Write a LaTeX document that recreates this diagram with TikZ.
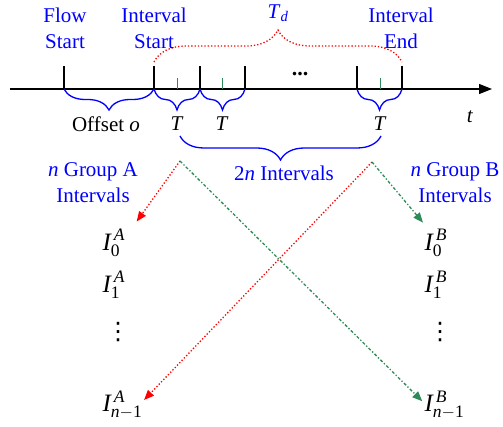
\documentclass[tikz,border=0pt]{standalone}
\usepackage{amsmath}
\usepackage{fontspec}
\setmainfont{Liberation Serif}
\newfontfamily\dotsfont{DejaVu Sans}
\usetikzlibrary{arrows.meta,positioning,decorations.pathreplacing}
\definecolor{grpgreen}{RGB}{46,139,87}
\begin{document}
\begin{tikzpicture}[x=1pt,y=-1pt,font=\fontsize{21}{26}\selectfont,line width=1.3pt,
  lbl/.style={text=blue,align=center,inner sep=0pt},
  plain/.style={inner sep=0pt},
  ivl/.style={inner sep=1pt,anchor=west,font=\fontsize{25}{30}\selectfont},
  vdot/.style={inner sep=0pt,font=\dotsfont\fontsize{24}{28}\selectfont},
  gtick/.style={grpgreen,line width=1pt},
  bluebrace/.style={blue,decorate,decoration={brace,mirror,amplitude=#1}},
  redflow/.style={red,dotted,line width=1.3pt,-{Triangle[length=10pt,width=8pt]}},
  greenflow/.style={grpgreen,dash dot,line width=1.3pt,-{Triangle[length=10pt,width=8pt]}}]
\useasboundingbox (0,0) rectangle (503,427);
\coordinate (axL) at (10,89);
\coordinate (axR) at (492,89);
\draw[-{Triangle[length=13pt,width=10pt]}] (axL) -- (axR);
\foreach \x/\n in {64/f,154/s,200/a,245/b,357/c,402/e}{
  \coordinate (top\n) at (\x,66);
  \coordinate (bot\n) at (\x,89);
  \draw (top\n) -- (bot\n);
}
\foreach \x in {177,222,380}
  \draw[gtick] (\x,78) -- (\x,89);
\node[plain,font=\bfseries\fontsize{22}{26}\selectfont] (dots) at (300,74) {...};
\draw[bluebrace=21pt] (botf) -- (bots);
\draw[bluebrace=21pt] (bots) -- (bota);
\draw[bluebrace=21pt] (bota) -- (botb);
\draw[bluebrace=21pt] (botc) -- (bote);
\coordinate (twoL) at (180,136);
\coordinate (twoR) at (381,136);
\draw[bluebrace=24pt] (twoL) -- (twoR);
\coordinate (tdL) at (154,62);
\coordinate (tdR) at (402,62);
\draw[red,dotted,decorate,decoration={brace,amplitude=32pt}] (tdL) -- (tdR);
\node[lbl] (flow) at (65,28) {Flow\\Start};
\node[lbl] (istart) at (154,28) {Interval\\Start};
\node[lbl] (iend) at (401,28) {Interval\\End};
\node[lbl] (td) at (278,13) {\textit{T}$_{\textit{d}}$};
\node[plain] (offset) at (106,124) {Offset \textit{o}};
\node[plain] (t1) at (177,124) {\textit{T}};
\node[plain] (t2) at (222,124) {\textit{T}};
\node[plain] (t3) at (380,124) {\textit{T}};
\node[plain] (tax) at (470,117) {\textit{t}};
\node[lbl] (grpA) at (93,183) {\textit{n} Group A\\Intervals};
\node[lbl] (grpB) at (455,183) {\textit{n} Group B\\Intervals};
\node[lbl] (twon) at (284,173) {2\textit{n} Intervals};
\node[ivl] (IA0) at (101,243) {$\textit{I}^{\,\textit{A}}_{\textup{0}}$};
\node[ivl] (IA1) at (101,285) {$\textit{I}^{\,\textit{A}}_{\textup{1}}$};
\node[vdot] (vdA) at (118,332) {⋮};
\node[ivl] (IAn) at (101,405) {$\textit{I}^{\,\textit{A}}_{\textit{n}-\textup{1}}$};
\node[ivl] (IB0) at (423,243) {$\textit{I}^{\,\textit{B}}_{\textup{0}}$};
\node[ivl] (IB1) at (423,285) {$\textit{I}^{\,\textit{B}}_{\textup{1}}$};
\node[vdot] (vdB) at (440,332) {⋮};
\node[ivl] (IBn) at (423,405) {$\textit{I}^{\,\textit{B}}_{\textit{n}-\textup{1}}$};
\coordinate (srcA) at (180,161);
\coordinate (srcB) at (372,162);
\draw[redflow] (srcA) -- ([xshift=10pt,yshift=6pt]IA0.north east);
\draw[redflow] (srcB) -- ([yshift=5pt]IAn.east);
\draw[greenflow,shorten >=1pt] (srcA) -- ([yshift=3pt]IBn.west);
\draw[greenflow] (srcB) -- ([yshift=5pt]IB0.north west);
\end{tikzpicture}
\end{document}
